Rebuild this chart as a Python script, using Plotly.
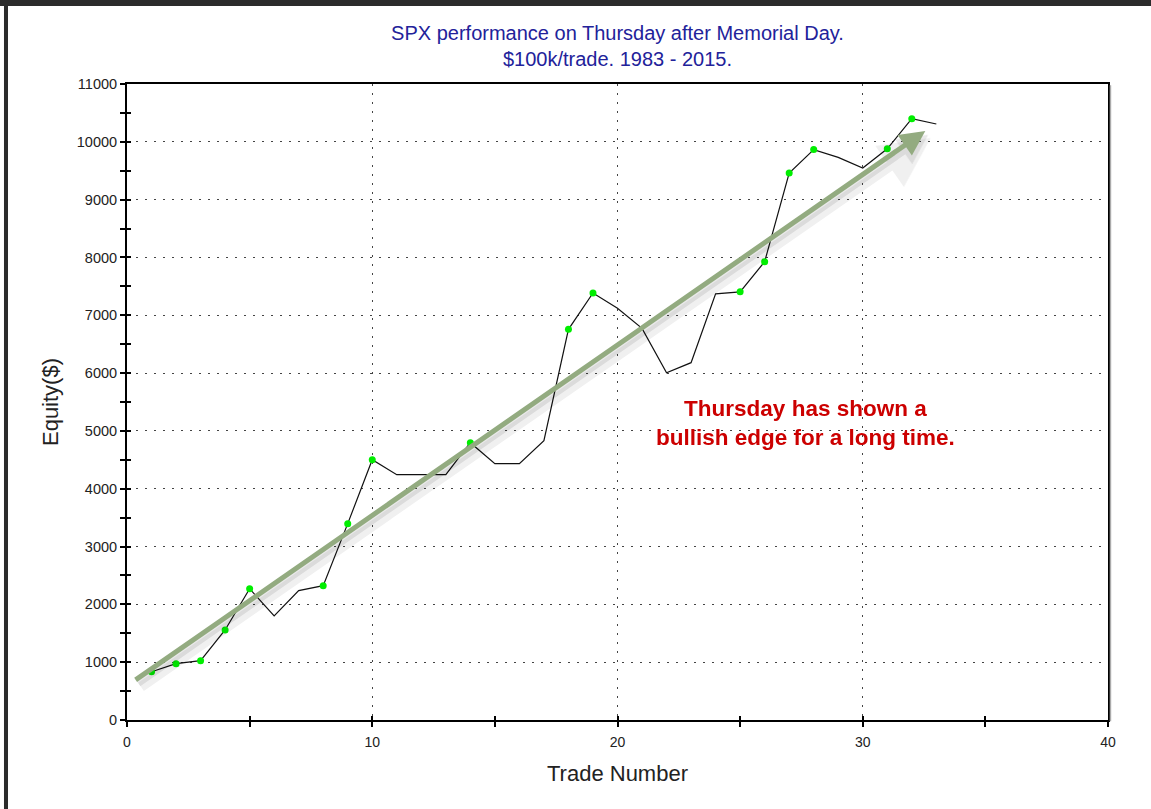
import plotly.graph_objects as go

trade_number = list(range(1, 34))
equity = [835, 974, 1026, 1557, 2271, 1799, 2237, 2323, 3396, 4502,
          4243, 4243, 4243, 4796, 4433, 4433, 4831, 6757, 7385, 7120,
          6774, 6007, 6180, 7370, 7405, 7927, 9460, 9865, 9730, 9547,
          9880, 10400, 10308]
# Trades mit gruenem Punkt
marked_trades = [1, 2, 3, 4, 5, 8, 9, 10, 14, 18, 19, 25, 26, 27, 28, 31, 32]
marked_equity = [equity[t - 1] for t in marked_trades]

x_ticks = [0, 10, 20, 30, 40]
y_ticks = list(range(0, 11001, 1000))

# Trendpfeil (Start / Ende in Datenkoordinaten)
arrow_start = (0.29, 675)
arrow_end = (32.55, 10187)

FONT = "Liberation Sans, Arial, sans-serif"

fig = go.Figure()

# Equity-Kurve
fig.add_trace(go.Scatter(
    x=trade_number, y=equity, mode="lines",
    line=dict(color="#111111", width=1.2),
    hoverinfo="skip", showlegend=False
))

# gruene Punkte
fig.add_trace(go.Scatter(
    x=marked_trades, y=marked_equity, mode="markers",
    marker=dict(color="#00ee00", size=7, line=dict(width=0)),
    showlegend=False
))

# unsichtbare Spur fuer die Achsen mit Innen-Ticks
fig.add_trace(go.Scatter(
    x=[0], y=[0], xaxis="x2", yaxis="y2", mode="markers",
    marker=dict(opacity=0), hoverinfo="skip", showlegend=False
))

# Schatten des Pfeils (zwei weiche Lagen)
for dx, dy, w, c in [(0.22, -120, 10, "rgba(0,0,0,0.06)"),
                     (0.12, -65, 6, "rgba(0,0,0,0.09)")]:
    fig.add_annotation(
        x=arrow_end[0] + dx, y=arrow_end[1] + dy,
        ax=arrow_start[0] + dx, ay=arrow_start[1] + dy,
        xref="x", yref="y", axref="x", ayref="y",
        text="", showarrow=True, arrowhead=2, arrowsize=1.0,
        arrowwidth=w, arrowcolor=c, standoff=0
    )
# Pfeil
fig.add_annotation(
    x=arrow_end[0], y=arrow_end[1],
    ax=arrow_start[0], ay=arrow_start[1],
    xref="x", yref="y", axref="x", ayref="y",
    text="", showarrow=True, arrowhead=2, arrowsize=1.0,
    arrowwidth=5, arrowcolor="#93ab80", standoff=0
)

# Text im Chart
fig.add_annotation(
    x=27.65, y=5137, xref="x", yref="y",
    text="<b>Thursday has shown a<br>bullish edge for a long time.</b>",
    showarrow=False, align="center",
    font=dict(family=FONT, size=22.5, color="#cc0000")
)

# dunkler Rahmen oben und links
fig.add_shape(type="rect", xref="paper", yref="paper",
              x0=-0.13, x1=1.05, y0=1.1226, y1=1.135,
              fillcolor="#2b2b2b", line=dict(width=0), layer="above")
fig.add_shape(type="rect", xref="paper", yref="paper",
              x0=-0.1254, x1=-0.1213, y0=-0.15, y1=1.135,
              fillcolor="#2b2b2b", line=dict(width=0), layer="above")
# grauer Schatten rechts am Plotrahmen
fig.add_shape(type="line", xref="paper", yref="paper",
              x0=1.0025, x1=1.0025, y0=-0.002, y1=0.998,
              line=dict(color="#aaaaaa", width=1.5))

axis_common = dict(
    showline=True, linecolor="black", linewidth=2, mirror=True,
    ticks="outside", ticklen=5, tickcolor="black", tickwidth=1.5,
    showgrid=True, gridcolor="#444444", gridwidth=1, griddash="2px,7px",
    zeroline=False, tickformat="d",
)

fig.update_layout(
    width=1151, height=809,
    margin=dict(l=127, r=43, t=84, b=89),
    paper_bgcolor="white", plot_bgcolor="white",
    title=dict(
        text="SPX performance on Thursday after Memorial Day.<br>$100k/trade. 1983 - 2015.",
        x=(127 + 1108) / 2 / 1151, xanchor="center",
        y=1 - 40 / 809, yanchor="top",
        font=dict(family=FONT, size=20, color="#22229a")
    ),
    xaxis=dict(
        range=[0, 40], tickvals=x_ticks, ticklabelstandoff=3,
        tickfont=dict(family=FONT, size=14, color="#222222"),
        minor=dict(dtick=5, ticks="outside", ticklen=5, tickcolor="black", showgrid=False),
        title=dict(text="Trade Number", standoff=17,
                   font=dict(family=FONT, size=22, color="#222222")),
        **axis_common
    ),
    yaxis=dict(
        range=[0, 11000], tickvals=y_ticks,
        tickfont=dict(family=FONT, size=14.5, color="#222222"),
        minor=dict(dtick=500, ticks="outside", ticklen=5, tickcolor="black", showgrid=False),
        title=dict(text="Equity($)", standoff=12,
                   font=dict(family=FONT, size=22, color="#222222")),
        **axis_common
    ),
    xaxis2=dict(
        range=[0, 40], overlaying="x", anchor="y2", tickvals=x_ticks,
        ticks="inside", ticklen=4, tickcolor="black", tickwidth=1.5,
        minor=dict(dtick=5, ticks="inside", ticklen=4, tickcolor="black"),
        showticklabels=False, showgrid=False, zeroline=False, showline=False
    ),
    yaxis2=dict(
        range=[0, 11000], overlaying="y", anchor="x2", tickvals=y_ticks,
        ticks="inside", ticklen=4, tickcolor="black", tickwidth=1.5,
        minor=dict(dtick=500, ticks="inside", ticklen=4, tickcolor="black"),
        showticklabels=False, showgrid=False, zeroline=False, showline=False
    ),
)

# Seitenrand des Browsers entfernen, damit die Grafik bei (0,0) beginnt
fig.write_html("out.html", config={"displayModeBar": False},
               post_script="document.body.style.margin='0';")
